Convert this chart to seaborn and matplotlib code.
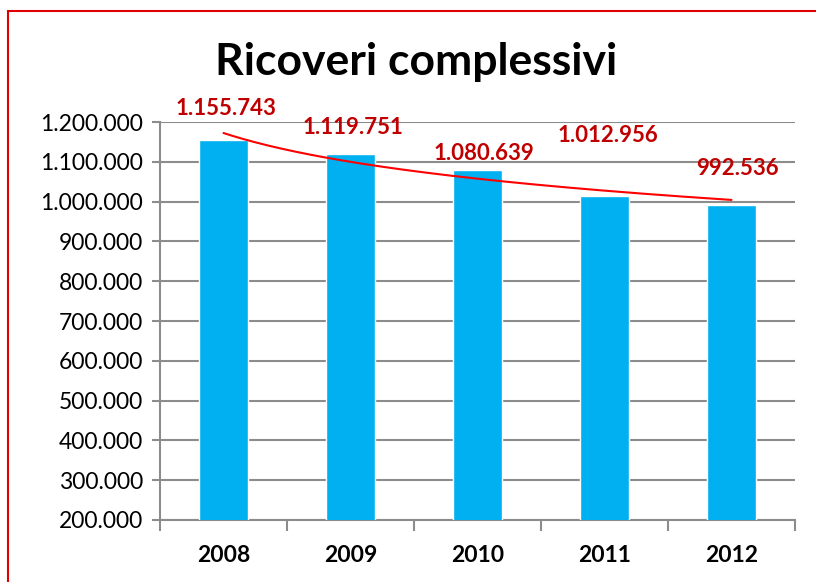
import numpy as np
import pandas as pd
import matplotlib
matplotlib.use("Agg")
import matplotlib.pyplot as plt
from matplotlib.ticker import FuncFormatter, FixedLocator, MultipleLocator
from matplotlib.patches import Rectangle
import seaborn as sns

# Data
years = ["2008", "2009", "2010", "2011", "2012"]
ricoveri = [1155743, 1119751, 1080639, 1012956, 992536]
# vertical placement of each value label (data units)
label_y = [1235000, 1185000, 1122000, 1167000, 1084000]
label_dx = [0.02, 0.02, 0.05, 0.03, 0.05]

sns.set_theme(style="white")
plt.rcParams["font.family"] = ["Lato", "DejaVu Sans"]

df = pd.DataFrame({"anno": years, "ricoveri": ricoveri})

fig = plt.figure(figsize=(8.16, 5.82), dpi=100)
ax = fig.add_axes([160 / 816, 1 - 520 / 582, 635 / 816, 398 / 582])

sns.barplot(data=df, x="anno", y="ricoveri", color="#00B0F0", saturation=1,
            width=0.39, ax=ax, zorder=3)

# logarithmic trend line
xs = np.arange(1, len(ricoveri) + 1)
a, b = np.polyfit(np.log(xs), ricoveri, 1)
xt = np.linspace(1, len(ricoveri), 200)
ax.plot(xt - 1, a * np.log(xt) + b, color="#FF0000", lw=1.5, zorder=4)

# value labels
for i, (v, ly) in enumerate(zip(ricoveri, label_y)):
    ax.text(i + label_dx[i], ly, f"{v:,.0f}".replace(",", "."), ha="center",
            va="center", color="#C00000", fontsize=16, fontweight="bold",
            zorder=5, clip_on=False)

ax.set_ylim(200000, 1200000)
ax.set_xlim(-0.5, len(years) - 0.5)
ax.yaxis.set_major_locator(MultipleLocator(100000))
ax.yaxis.set_major_formatter(FuncFormatter(lambda v, p: f"{v:,.0f}".replace(",", ".")))
ax.grid(axis="y", color="#8C8C8C", lw=1.5, zorder=0)
ax.set_axisbelow(True)

ax.set_xlabel("")
ax.set_ylabel("")
for s in ["top", "right"]:
    ax.spines[s].set_visible(False)
for s in ["left", "bottom"]:
    ax.spines[s].set_color("#8C8C8C")
    ax.spines[s].set_linewidth(1.5)

ax.tick_params(axis="y", which="major", left=True, length=6, width=1.5,
               color="#8C8C8C", labelsize=16.5, pad=6, labelcolor="black")
ax.tick_params(axis="x", which="major", bottom=False, labelsize=16.5, pad=12,
               labelcolor="black")
for t in ax.get_xticklabels():
    t.set_fontweight("bold")
ax.xaxis.set_minor_locator(FixedLocator(np.arange(-0.5, len(years), 1.0)))
ax.tick_params(axis="x", which="minor", bottom=True, length=8, width=1.5,
               color="#8C8C8C")

fig.text(416 / 816, 1 - 62 / 582, "Ricoveri complessivi", ha="center",
         va="center", fontsize=32, fontweight="bold", color="black")

# chart frame
fig.patches.append(Rectangle((7.5 / 816, -0.05), 1.1, 1 - 10.5 / 582 + 0.05,
                             transform=fig.transFigure, fill=False,
                             edgecolor="#E00000", lw=1.5))

fig.savefig("out.png", dpi=100)
